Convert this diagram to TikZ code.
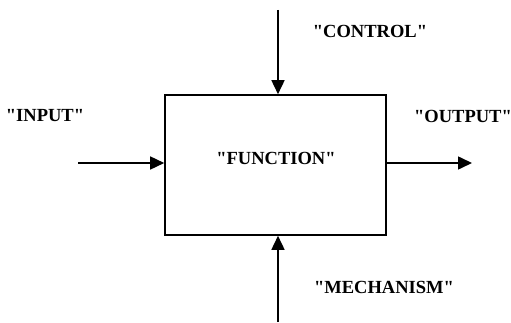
\documentclass[tikz,border=0pt]{standalone}
\usepackage{fontspec}
\setmainfont{Liberation Serif}[Ligatures=TeXOff]
\usetikzlibrary{arrows.meta}
\begin{document}
\begin{tikzpicture}[x=1pt,y=-1pt,
  lbl/.style={font=\fontsize{18.5}{22}\selectfont\bfseries, inner sep=0pt},
  flow/.style={line width=1.6pt, -{Triangle[length=14pt,width=13pt]}}]
\useasboundingbox (0,0) rectangle (511,323);
\node[draw, line width=1.6pt, minimum width=221pt, minimum height=140pt, inner sep=0pt] (fn) at (275.5,165) {};
\node[lbl] (fnl) at (276,158) {"FUNCTION"};
\coordinate (cin) at (278,10);
\coordinate (min) at (278,322);
\coordinate (iin) at (78,163);
\coordinate (oout) at (472,163);
\draw[flow] (cin) -- (cin |- fn.north);
\draw[flow] (min) -- (min |- fn.south);
\draw[flow] (iin) -- (iin -| fn.west);
\draw[flow] (oout -| fn.east) -- (oout);
\node[lbl] (cl) at (370,31) {"CONTROL"};
\node[lbl] (il) at (45,116) {"INPUT"};
\node[lbl] (ol) at (463,116) {"OUTPUT"};
\node[lbl] (ml) at (384,287) {"MECHANISM"};
\end{tikzpicture}
\end{document}
